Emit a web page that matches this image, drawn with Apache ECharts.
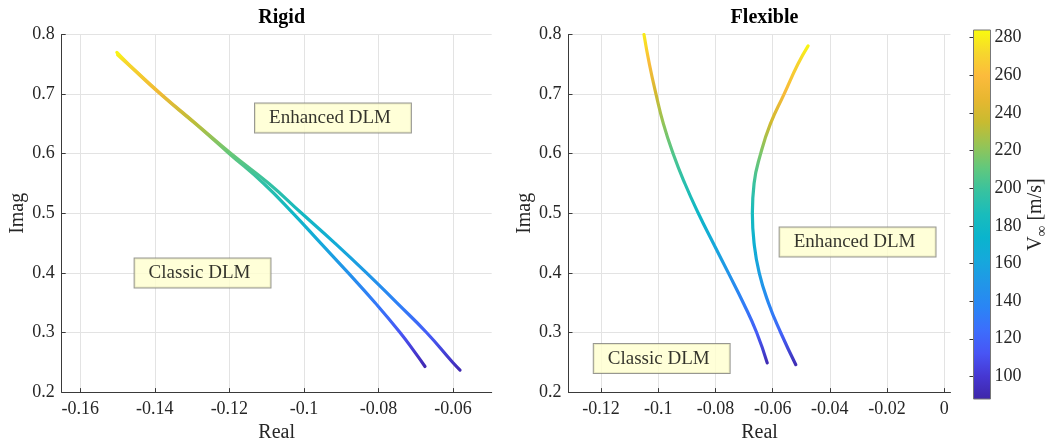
<!DOCTYPE html>
<html>
<head>
<meta charset="utf-8">
<script src="https://cdn.jsdelivr.net/npm/echarts@6/dist/echarts.min.js"></script>
<style>
html,body{margin:0;padding:0;background:#fff;}
#chart{width:1053px;height:448px;}
</style>
</head>
<body>
<div id="chart"></div>
<script>
// ---------- data ----------
const titles = ['Rigid', 'Flexible'];
const xAxisName = 'Real';
const yAxisName = 'Imag';
const colorbarName = '{v|V}{s|∞}{v| [m/s]}';

const rigidXTicks = [-0.16, -0.14, -0.12, -0.1, -0.08, -0.06];
const flexXTicks = [-0.12, -0.1, -0.08, -0.06, -0.04, -0.02, 0];
const colorbarTicks = [100, 120, 140, 160, 180, 200, 220, 240, 260, 280];

// Rigid – branch ending further right
const rigidOuterReal = [-0.0581, -0.0601, -0.0671, -0.0751, -0.0832, -0.0917, -0.1006, -0.1094, -0.1195, -0.1289, -0.1383, -0.1470, -0.1502];
const rigidOuterImag = [0.237, 0.25, 0.30, 0.35, 0.40, 0.45, 0.50, 0.55, 0.60, 0.65, 0.70, 0.75, 0.770];
const rigidOuterSpeed = [89, 95, 116, 134, 150, 166, 182, 197, 213, 232, 252, 271, 284];

// Rigid – branch ending further left
const rigidInnerReal = [-0.0675, -0.0700, -0.0742, -0.0809, -0.0881, -0.0955, -0.1029, -0.1108, -0.1200, -0.1291, -0.1385, -0.1472, -0.1500];
const rigidInnerImag = [0.243, 0.265, 0.30, 0.35, 0.40, 0.45, 0.50, 0.55, 0.60, 0.65, 0.70, 0.75, 0.766];
const rigidInnerSpeed = [89, 98, 112, 130, 146, 162, 178, 195, 212, 232, 252, 272, 284];

// Flexible – left branch
const flexLeftReal = [-0.0619, -0.0656, -0.0703, -0.0755, -0.0808, -0.0860, -0.0907, -0.0948, -0.0982, -0.1008, -0.1031, -0.1050];
const flexLeftImag = [0.249, 0.30, 0.35, 0.40, 0.45, 0.50, 0.55, 0.60, 0.65, 0.70, 0.75, 0.80];
const flexLeftSpeed = [90, 115, 133, 148, 163, 178, 192, 206, 222, 240, 258, 280];

// Flexible – right branch
const flexRightReal = [-0.0519, -0.0572, -0.0615, -0.0647, -0.0665, -0.0671, -0.0665, -0.0642, -0.0608, -0.0560, -0.0512, -0.0476];
const flexRightImag = [0.246, 0.30, 0.35, 0.40, 0.45, 0.50, 0.55, 0.60, 0.65, 0.70, 0.75, 0.781];
const flexRightSpeed = [90, 118, 138, 155, 170, 184, 199, 217, 238, 257, 271, 284];

// annotation boxes
const boxLabels = ['Enhanced DLM', 'Classic DLM', 'Enhanced DLM', 'Classic DLM'];
const boxReal = [-0.0922, -0.1272, -0.0303, -0.0988];
const boxImag = [0.6597, 0.400, 0.452, 0.2563];
const boxPanel = [0, 0, 1, 1];

const speedMin = 88;
const speedMax = 284;

// ---------- colormap (parula-like) ----------
const parulaStops = [
  [0.000, [62, 38, 168]], [0.0625, [70, 55, 210]], [0.125, [72, 85, 245]],
  [0.1875, [60, 110, 252]], [0.25, [42, 133, 245]], [0.3125, [33, 150, 232]],
  [0.375, [22, 168, 220]], [0.4375, [10, 180, 205]], [0.5, [25, 188, 188]],
  [0.5625, [55, 194, 160]], [0.625, [97, 200, 125]], [0.6875, [150, 196, 85]],
  [0.75, [200, 187, 48]], [0.8125, [232, 183, 48]], [0.875, [252, 187, 60]],
  [0.9375, [246, 215, 45]], [1.0, [249, 251, 14]]
];
function parula(t) {
  t = Math.max(0, Math.min(1, t));
  for (let i = 1; i < parulaStops.length; i++) {
    if (t <= parulaStops[i][0]) {
      const a = parulaStops[i - 1], b = parulaStops[i];
      const f = (t - a[0]) / (b[0] - a[0]);
      const c = a[1].map((v, k) => Math.round(v + (b[1][k] - v) * f));
      return 'rgb(' + c.join(',') + ')';
    }
  }
  return 'rgb(249,251,14)';
}
function speedColor(v) { return parula((v - speedMin) / (speedMax - speedMin)); }

function curveGradient(imag, speed) {
  const lo = Math.min.apply(null, imag), hi = Math.max.apply(null, imag);
  const stops = imag.map((y, i) => ({ offset: (y - lo) / (hi - lo), color: speedColor(speed[i]) }))
    .sort((a, b) => a.offset - b.offset);
  return new echarts.graphic.LinearGradient(0, 1, 0, 0, stops);
}

function curveSeries(real, imag, speed, panel) {
  return {
    type: 'line',
    xAxisIndex: panel, yAxisIndex: panel,
    data: real.map((x, i) => [x, imag[i]]),
    showSymbol: false, symbol: 'none',
    smooth: 0.5,
    silent: true,
    lineStyle: { width: 3.2, cap: 'round', join: 'round', color: curveGradient(imag, speed) },
    z: 3
  };
}

// ---------- chart ----------
const FONT = '"Liberation Serif", "DejaVu Serif", serif';
const axisColor = '#3a3a3a';
const gridColor = '#e3e3e3';
const fmt = v => String(+(+v).toFixed(3));

function mainX(idx, min, max, ticks) {
  return {
    type: 'value', gridIndex: idx, min: min, max: max,
    name: xAxisName, nameLocation: 'middle', nameGap: 29,
    nameTextStyle: { fontFamily: FONT, fontSize: 20, color: '#262626' },
    axisLine: { show: true, onZero: false, lineStyle: { color: axisColor, width: 1 } },
    axisTick: { show: true, inside: true, length: 4, customValues: ticks, lineStyle: { color: axisColor } },
    axisLabel: { customValues: ticks, formatter: fmt, fontFamily: FONT, fontSize: 18, color: '#262626', margin: 8 },
    splitLine: { show: true, lineStyle: { color: gridColor, width: 1 } }
  };
}
function mainY(idx) {
  return {
    type: 'value', gridIndex: idx, min: 0.2, max: 0.8, interval: 0.1,
    name: yAxisName, nameLocation: 'middle', nameGap: 34,
    nameTextStyle: { fontFamily: FONT, fontSize: 20, color: '#262626' },
    axisLine: { show: true, onZero: false, lineStyle: { color: axisColor, width: 1 } },
    axisTick: { show: true, inside: true, length: 4, lineStyle: { color: axisColor } },
    axisLabel: { formatter: fmt, fontFamily: FONT, fontSize: 18, color: '#262626', margin: 7 },
    splitLine: { show: true, lineStyle: { color: gridColor, width: 1 } }
  };
}

const series = [
  curveSeries(rigidOuterReal, rigidOuterImag, rigidOuterSpeed, 0),
  curveSeries(rigidInnerReal, rigidInnerImag, rigidInnerSpeed, 0),
  curveSeries(flexLeftReal, flexLeftImag, flexLeftSpeed, 1),
  curveSeries(flexRightReal, flexRightImag, flexRightSpeed, 1)
];

boxLabels.forEach((txt, i) => {
  series.push({
    type: 'scatter',
    xAxisIndex: boxPanel[i], yAxisIndex: boxPanel[i],
    data: [{ value: [boxReal[i], boxImag[i]], name: txt }],
    symbol: 'rect', symbolSize: 1,
    itemStyle: { color: 'rgba(0,0,0,0)' },
    silent: true, z: 10,
    label: {
      show: true, position: 'inside', formatter: '{b}',
      fontFamily: FONT, fontSize: 19, color: '#000', lineHeight: 22,
      backgroundColor: '#FFFFCE', borderColor: '#7d7d75', borderWidth: 1,
      padding: [4, 20, 3, 14]
    }
  });
});

// colorbar
const cbStops = parulaStops.map(s => ({ offset: s[0], color: 'rgb(' + s[1].join(',') + ')' }));
series.push({
  type: 'custom',
  xAxisIndex: 2, yAxisIndex: 2,
  data: [[0, speedMin, speedMax]],
  silent: true,
  renderItem: function (params, api) {
    const p0 = api.coord([0, api.value(2)]);
    const p1 = api.coord([1, api.value(1)]);
    return {
      type: 'rect',
      shape: { x: p0[0], y: p0[1], width: p1[0] - p0[0], height: p1[1] - p0[1] },
      style: { fill: new echarts.graphic.LinearGradient(0, 1, 0, 0, cbStops), stroke: '#777', lineWidth: 1 }
    };
  },
  z: 1
});

const chart = echarts.init(document.getElementById('chart'), null, { renderer: 'canvas' });
chart.setOption({
  animation: false,
  backgroundColor: '#fff',
  title: [
    { text: titles[0], left: 276.7, top: 3, textAlign: 'center',
      textStyle: { fontFamily: FONT, fontSize: 20, fontWeight: 'bold', color: '#000' } },
    { text: titles[1], left: 759.5, top: 3, textAlign: 'center',
      textStyle: { fontFamily: FONT, fontSize: 20, fontWeight: 'bold', color: '#000' } }
  ],
  grid: [
    { left: 61.7, top: 34.5, width: 430, height: 358, containLabel: false },
    { left: 568.5, top: 34.5, width: 382, height: 358, containLabel: false },
    { left: 973.5, top: 30, width: 17, height: 369, containLabel: false }
  ],
  xAxis: [
    mainX(0, -0.165, -0.0496, rigidXTicks),
    mainX(1, -0.1314, 0.0022, flexXTicks),
    { type: 'value', gridIndex: 2, min: 0, max: 1, show: false }
  ],
  yAxis: [
    mainY(0),
    mainY(1),
    {
      type: 'value', gridIndex: 2, position: 'right', min: speedMin, max: speedMax,
      name: colorbarName, nameLocation: 'middle', nameGap: 34,
      nameTextStyle: {
        fontFamily: FONT, fontSize: 20, color: '#262626',
        rich: {
          v: { fontFamily: FONT, fontSize: 20, color: '#262626', verticalAlign: 'top', lineHeight: 22 },
          s: { fontFamily: FONT, fontSize: 15, color: '#262626', verticalAlign: 'top', padding: [9, 0, 0, 0], lineHeight: 15 }
        }
      },
      axisLine: { show: false },
      axisTick: { show: true, inside: true, length: 4, customValues: colorbarTicks, lineStyle: { color: '#333' } },
      axisLabel: { customValues: colorbarTicks, fontFamily: FONT, fontSize: 18, color: '#262626', margin: 4 },
      splitLine: { show: false }
    }
  ],
  series: series
});
</script>
</body>
</html>
